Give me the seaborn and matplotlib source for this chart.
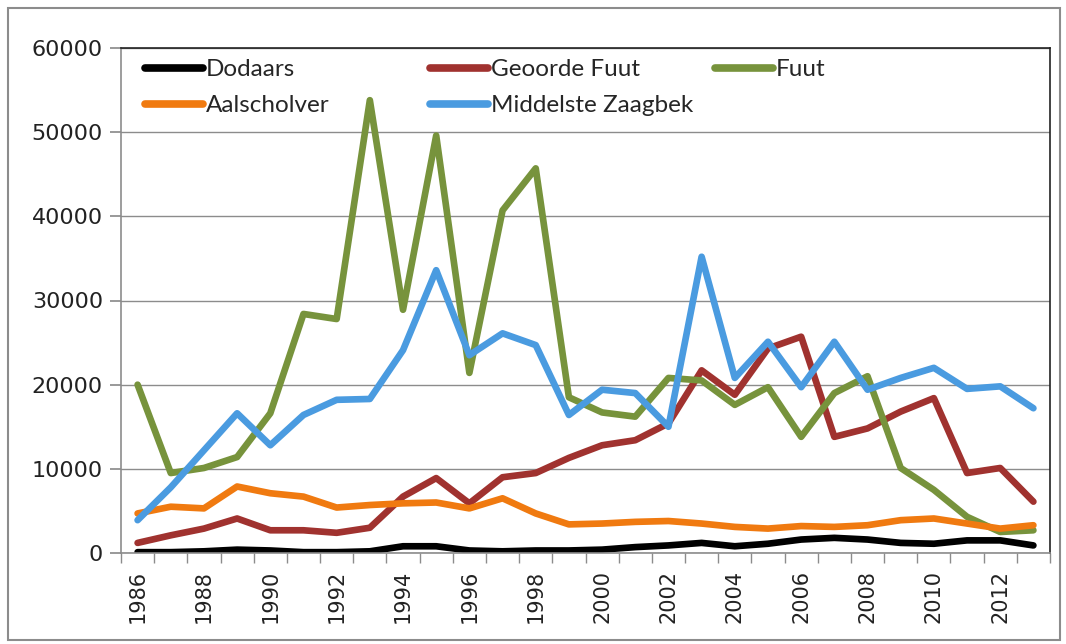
import numpy as np
import pandas as pd
import matplotlib
matplotlib.use("Agg")
import matplotlib.pyplot as plt
from matplotlib.lines import Line2D
from matplotlib.patches import Rectangle
import seaborn as sns

# ── Data ──────────────────────────────────────────────────────────────────────
years = list(range(1986, 2014))

dodaars = [100, 100, 200, 400, 300, 100, 100, 200, 800, 800, 300, 200, 300, 300,
           400, 700, 900, 1200, 800, 1100, 1600, 1800, 1600, 1200, 1100, 1500, 1500, 900]
geoorde_fuut = [1200, 2100, 2900, 4100, 2700, 2700, 2400, 3000, 6700, 8900, 5900, 9000, 9500, 11300,
                12800, 13400, 15400, 21700, 18800, 24300, 25700, 13800, 14800, 16800, 18400, 9500, 10100, 6100]
fuut = [20000, 9500, 10100, 11400, 16600, 28400, 27800, 53800, 28900, 49600, 21400, 40700, 45700, 18500,
        16700, 16200, 20800, 20500, 17600, 19700, 13800, 19000, 21000, 10100, 7500, 4300, 2500, 2700]
aalscholver = [4700, 5500, 5300, 7900, 7100, 6700, 5400, 5700, 5900, 6000, 5300, 6500, 4700, 3400,
               3500, 3700, 3800, 3500, 3100, 2900, 3200, 3100, 3300, 3900, 4100, 3500, 2900, 3300]
zaagbek = [3900, 7800, 12200, 16600, 12800, 16400, 18200, 18300, 24100, 33600, 23500, 26100, 24700, 16400,
           19400, 19000, 15000, 35200, 20800, 25100, 19700, 25100, 19400, 20800, 22000, 19500, 19800, 17200]

series_names = ["Dodaars", "Geoorde Fuut", "Fuut", "Aalscholver", "Middelste Zaagbek"]
series_values = [dodaars, geoorde_fuut, fuut, aalscholver, zaagbek]
colors = ["#000000", "#A0322F", "#77933C", "#F07A10", "#4A9BE0"]

df = pd.concat(
    [pd.DataFrame({"jaar": years, "aantal": v, "soort": n}) for n, v in zip(series_names, series_values)],
    ignore_index=True,
)

# ── Plot ──────────────────────────────────────────────────────────────────────
sns.set_theme(style="white")
plt.rcParams["font.family"] = ["DejaVu Sans"]

W, H = 1066, 644
fig = plt.figure(figsize=(W / 100, H / 100), dpi=100)
ax = fig.add_axes([121 / W, 1 - 553 / H, (1050 - 121) / W, (553 - 48) / H])

sns.lineplot(data=df, x="jaar", y="aantal", hue="soort", hue_order=series_names,
             palette=colors, linewidth=4.8, ax=ax, legend=False, solid_capstyle="round")

ax.set_xlim(1985.5, 2013.5)
ax.set_ylim(0, 60000)
ax.set_yticks(range(0, 60001, 10000))
ax.yaxis.grid(True, color="#8c8c8c", linewidth=1)
ax.set_axisbelow(True)

ax.set_xticks(years[::2])
ax.set_xticklabels([str(y) for y in years[::2]], rotation=90)
ax.set_xticks(np.arange(1985.5, 2014, 1), minor=True)
ax.tick_params(axis="x", which="major", length=0, pad=12, labelsize=15, labelcolor="#222222")
ax.tick_params(axis="x", which="minor", direction="out", length=7, color="#8c8c8c", bottom=True)
ax.tick_params(axis="y", direction="out", length=8, color="#8c8c8c", left=True, labelsize=16,
               labelcolor="#222222", pad=5)
ax.set_xlabel("")
ax.set_ylabel("")

for side in ["top", "right"]:
    ax.spines[side].set_color("#222222")
    ax.spines[side].set_linewidth(1.2)
for side in ["left", "bottom"]:
    ax.spines[side].set_color("#8c8c8c")
    ax.spines[side].set_linewidth(1.2)

# legend: three columns placed like the original
columns = [[0, 3], [1, 4], [2]]
col_x = [145, 430, 715]
legends = []
for idx, x0 in zip(columns, col_x):
    handles = [Line2D([], [], color=colors[i], linewidth=5.5, solid_capstyle="round") for i in idx]
    labels = [series_names[i] for i in idx]
    leg = ax.legend(handles, labels, loc="upper left", bbox_to_anchor=(x0 / W, 1 - 59 / H),
                    bbox_transform=fig.transFigure, frameon=False, handlelength=2.4,
                    handletextpad=0.1, labelspacing=0.62, borderpad=0, borderaxespad=0,
                    prop={"family": ["Lato", "DejaVu Sans"], "size": 17.5})
    legends.append(leg)
for leg in legends[:-1]:
    ax.add_artist(leg)

# outer chart border
fig.patches.append(Rectangle((8 / W, 4 / H), 1052 / W, 632 / H, transform=fig.transFigure,
                             fill=False, edgecolor="#8c8c8c", linewidth=1.5))

fig.savefig("out.png", dpi=100)
